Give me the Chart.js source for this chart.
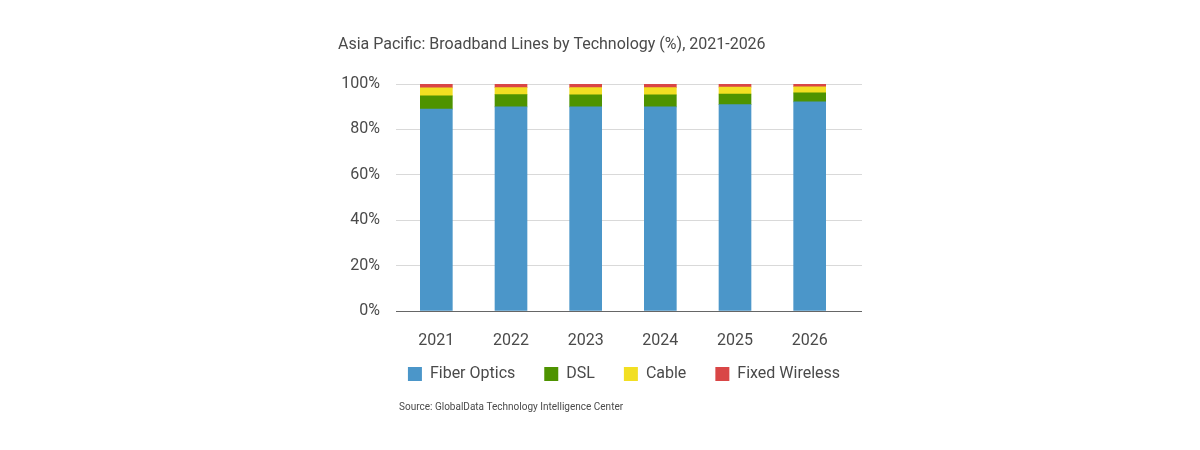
<!DOCTYPE html>
<html><head><meta charset="utf-8">
<script src="https://cdn.jsdelivr.net/npm/chart.js@4.4.1/dist/chart.umd.min.js"></script>
<style>html,body{margin:0;padding:0;background:#fff}</style>
</head><body>
<canvas id="c" width="1200" height="450"></canvas>
<script>
const categories = ['2021', '2022', '2023', '2024', '2025', '2026'];
const fiberOptics = [88.9, 89.9, 89.9, 89.9, 90.9, 92.1];
const dsl = [5.9, 5.4, 5.3, 5.3, 4.7, 4.0];
const cable = [3.5, 3.1, 3.2, 3.2, 3.0, 2.7];
const fixedWireless = [1.7, 1.6, 1.6, 1.6, 1.4, 1.2];
const seriesNames = ['Fiber Optics', 'DSL', 'Cable', 'Fixed Wireless'];
const yTickStep = 20;
const titleText = 'Asia Pacific: Broadband Lines by Technology (%), 2021-2026';
const sourceText = 'Source: GlobalData Technology Intelligence Center';

const FONT = 'Roboto, "Open Sans", sans-serif';
const TEXT = '#4a4a4a';
const GRID = '#d9d9d9';
const AXIS = '#666666';
const COLORS = ['#4b96c9', '#4e9300', '#f2df22', '#d94646'];
const gridColor = ctx => (ctx.tick && ctx.tick.value === 0) ? AXIS : GRID;

const seriesValues = [fiberOptics, dsl, cable, fixedWireless];

// nudge the legend row up into the space under the year labels
const legendNudge = {
  id: 'legendNudge',
  afterLayout(chart) {
    const l = chart.legend;
    if (l) { l.top -= 13; l.bottom -= 13; }
  }
};

new Chart(document.getElementById('c'), {
  type: 'bar',
  data: {
    labels: categories,
    datasets: seriesValues.map((vals, i) => ({
      label: seriesNames[i],
      data: vals,
      backgroundColor: COLORS[i],
      borderWidth: 0,
      barThickness: 32,
      yAxisID: 'y'
    }))
  },
  plugins: [legendNudge],
  options: {
    responsive: false,
    animation: false,
    devicePixelRatio: 1,
    layout: { padding: { left: 338, right: 290, top: 34.9, bottom: 37.5 } },
    plugins: {
      title: {
        display: true, text: titleText, align: 'start', color: TEXT,
        font: { family: FONT, size: 16, weight: 'normal' },
        padding: { top: 0, bottom: 29.9 }
      },
      subtitle: {
        display: true, text: sourceText, position: 'bottom', align: 'start', fullSize: false,
        color: TEXT, font: { family: FONT, size: 10, weight: 'normal', lineHeight: 1.1 },
        padding: { top: 7.5, bottom: 0 }
      },
      legend: {
        position: 'bottom',
        maxHeight: 44,
        labels: { boxWidth: 14, boxHeight: 14, padding: 29, color: TEXT, font: { family: FONT, size: 16 } }
      },
      tooltip: { enabled: false }
    },
    scales: {
      x: {
        stacked: true,
        grid: { display: false, drawTicks: false },
        border: { display: false },
        ticks: { padding: 20, color: TEXT, font: { family: FONT, size: 16 } },
        afterFit: s => { s.height = 39; }
      },
      y: {
        stacked: true, min: 0, max: 100,
        ticks: { stepSize: yTickStep, callback: v => v + '%', padding: 16, color: TEXT, font: { family: FONT, size: 16 } },
        grid: { color: gridColor, tickLength: 3, lineWidth: 1 },
        border: { display: false },
        afterFit: s => { s.width = 61; }
      },
      y2: {
        position: 'right', min: 0, max: 100,
        ticks: { stepSize: yTickStep, display: false },
        grid: { color: gridColor, drawOnChartArea: false, tickLength: 15, lineWidth: 1 },
        border: { display: false },
        afterFit: s => { s.width = 63; }
      }
    }
  }
});
</script>
</body></html>
